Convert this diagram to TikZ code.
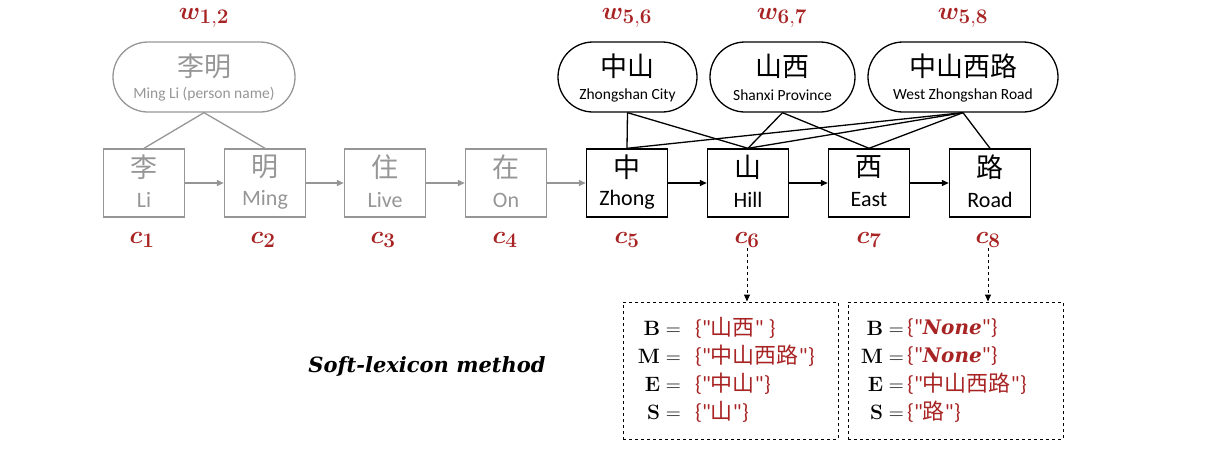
\documentclass[tikz,border=0pt]{standalone}
\usepackage{bm}
\usepackage[no-math]{fontspec}
\setmainfont{Carlito}
\newfontfamily\cjk{Noto Sans CJK SC}
\newfontfamily\serifb{DejaVu Serif}
\newfontfamily\carq{Carlito}
\newcommand\qq{{\carq\symbol{34}}}
\usetikzlibrary{arrows.meta,shapes.misc}
\definecolor{myred}{RGB}{168,36,36}
\definecolor{mygray}{RGB}{150,150,150}
\begin{document}
\begin{tikzpicture}[x=1pt,y=-1pt,
  charbox/.style={draw, line width=1.4pt, minimum width=81pt, minimum height=68pt, inner sep=0pt},
  graybox/.style={charbox, draw=mygray},
  oval/.style={draw, rounded rectangle, line width=1.3pt, minimum height=70pt, inner sep=0pt},
  grayoval/.style={oval, draw=mygray},
  zh/.style={font=\cjk\fontsize{27}{30}\selectfont, inner sep=0pt},
  en/.style={font=\fontsize{22}{26}\selectfont, inner sep=0pt},
  ozh/.style={font=\cjk\fontsize{27}{30}\selectfont, inner sep=0pt},
  oen/.style={font=\fontsize{15.5}{18}\selectfont, inner sep=0pt},
  wlab/.style={text=myred, font=\fontsize{30}{34}\selectfont, inner sep=0pt},
  arr/.style={-{Triangle[length=7pt,width=6pt]}, line width=1.4pt},
  grayarr/.style={arr, draw=mygray},
  link/.style={line width=1.3pt},
  graylink/.style={link, draw=mygray},
  dbox/.style={draw, dashed, line width=1pt, minimum width=215pt, minimum height=137pt, inner sep=0pt},
  darr/.style={dashed, line width=1pt, -{Triangle[length=7pt,width=6pt]}},
  lhs/.style={anchor=east, inner sep=0pt, font=\fontsize{22}{26}\selectfont},
  rhs/.style={anchor=west, inner sep=0pt, text=myred, font=\fontsize{22}{26}\selectfont},
]
\useasboundingbox (0,0) rectangle (1224,448);

% character boxes
\node[graybox] (b1) at (144,183) {};
\node[graybox] (b2) at (265,183) {};
\node[graybox] (b3) at (385,183) {};
\node[graybox] (b4) at (506,183) {};
\node[charbox] (b5) at (627,183) {};
\node[charbox] (b6) at (748,183) {};
\node[charbox] (b7) at (869,183) {};
\node[charbox] (b8) at (990,183) {};

\node[zh, text=mygray] (t1) at (144,167) {李};
\node[en, text=mygray] (e1) at (144,200) {Li};
\node[zh, text=mygray] (t2) at (265,167) {明};
\node[en, text=mygray] (e2) at (265,200) {Ming};
\node[zh, text=mygray] (t3) at (385,167) {住};
\node[en, text=mygray] (e3) at (385,200) {Live};
\node[zh, text=mygray] (t4) at (506,167) {在};
\node[en, text=mygray] (e4) at (506,200) {On};
\node[zh] (t5) at (627,167) {中};
\node[en] (e5) at (627,200) {Zhong};
\node[zh] (t6) at (748,167) {山};
\node[en] (e6) at (748,200) {Hill};
\node[zh] (t7) at (869,167) {西};
\node[en] (e7) at (869,200) {East};
\node[zh] (t8) at (990,167) {路};
\node[en] (e8) at (990,200) {Road};

% sequence arrows
\draw[grayarr] (b1.east) -- (b2.west);
\draw[grayarr] (b2.east) -- (b3.west);
\draw[grayarr] (b3.east) -- (b4.west);
\draw[grayarr] (b4.east) -- (b5.west);
\draw[arr] (b5.east) -- (b6.west);
\draw[arr] (b6.east) -- (b7.west);
\draw[arr] (b7.east) -- (b8.west);

% word ovals
\node[grayoval, minimum width=182pt] (o1) at (204,77) {};
\node[ozh, text=mygray] (o1z) at (204,66) {李明};
\node[oen, text=mygray] (o1e) at (204,94) {Ming Li (person name)};
\node[oval, minimum width=139pt] (o2) at (627.5,77) {};
\node[ozh] (o2z) at (627.5,66) {中山};
\node[oen] (o2e) at (627.5,95) {Zhongshan City};
\node[oval, minimum width=145pt] (o3) at (782.5,77) {};
\node[ozh] (o3z) at (782.5,66) {山西};
\node[oen] (o3e) at (782.5,95) {Shanxi Province};
\node[oval, minimum width=190pt] (o4) at (963,77) {};
\node[ozh] (o4z) at (963,66) {中山西路};
\node[oen] (o4e) at (963,95) {West Zhongshan Road};

% links
\draw[graylink] (o1.south) -- (b1.north);
\draw[graylink] (o1.south) -- (b2.north);
\draw[link] (o2.south) -- (b5.north);
\draw[link] (o2.south) -- (b6.north);
\draw[link] (o3.south) -- (b6.north);
\draw[link] (o3.south) -- (b7.north);
\draw[link] (o4.south) -- (b5.north);
\draw[link] (o4.south) -- (b6.north);
\draw[link] (o4.south) -- (b7.north);
\draw[link] (o4.south) -- (b8.north);

% w labels
\node[wlab] (w12) at (204,18) {$\bm{w}_{\mathbf{1,2}}$};
\node[wlab] (w56) at (627,18) {$\bm{w}_{\mathbf{5,6}}$};
\node[wlab] (w67) at (782,18) {$\bm{w}_{\mathbf{6,7}}$};
\node[wlab] (w58) at (963,18) {$\bm{w}_{\mathbf{5,8}}$};

% c labels
\node[wlab] (c1) at (142,240) {$\bm{c}_{\mathbf{1}}$};
\node[wlab] (c2) at (263,240) {$\bm{c}_{\mathbf{2}}$};
\node[wlab] (c3) at (383,240) {$\bm{c}_{\mathbf{3}}$};
\node[wlab] (c4) at (505,240) {$\bm{c}_{\mathbf{4}}$};
\node[wlab] (c5) at (627,240) {$\bm{c}_{\mathbf{5}}$};
\node[wlab] (c6) at (747,240) {$\bm{c}_{\mathbf{6}}$};
\node[wlab] (c7) at (869,240) {$\bm{c}_{\mathbf{7}}$};
\node[wlab] (c8) at (988,240) {$\bm{c}_{\mathbf{8}}$};

% lexicon boxes
\node[dbox] (L1) at (730.5,370.5) {};
\node[dbox] (L2) at (955.5,370.5) {};
\draw[darr] (c6.south) -- (c6.south |- L1.north);
\draw[darr] (c8.south) -- (c8.south |- L2.north);

\node[lhs] (l1b) at (681,328) {$\mathbf{B} =$};
\node[lhs] (l1m) at (681,356) {$\mathbf{M} =$};
\node[lhs] (l1e) at (681,384) {$\mathbf{E} =$};
\node[lhs] (l1s) at (681,412) {$\mathbf{S} =$};
\node[rhs] (r1b) at (695,328) {\{\qq{\cjk 山西}\qq\ \}};
\node[rhs] (r1m) at (695,356) {\{\qq{\cjk 中山西路}\qq\}};
\node[rhs] (r1e) at (695,384) {\{\qq{\cjk 中山}\qq\}};
\node[rhs] (r1s) at (695,412) {\{\qq{\cjk 山}\qq\}};

\node[lhs] (l2b) at (904,328) {$\mathbf{B} =$};
\node[lhs] (l2m) at (904,356) {$\mathbf{M} =$};
\node[lhs] (l2e) at (904,384) {$\mathbf{E} =$};
\node[lhs] (l2s) at (904,412) {$\mathbf{S} =$};
\node[rhs] (r2b) at (907,328) {\{\qq{\serifb\bfseries\itshape\fontsize{20}{24}\selectfont None}\qq\}};
\node[rhs] (r2m) at (907,356) {\{\qq{\serifb\bfseries\itshape\fontsize{20}{24}\selectfont None}\qq\}};
\node[rhs] (r2e) at (907,384) {\{\qq{\cjk 中山西路}\qq\}};
\node[rhs] (r2s) at (907,412) {\{\qq{\cjk 路}\qq\}};

\node[inner sep=0pt, font=\serifb\bfseries\itshape\fontsize{21}{26}\selectfont] (soft) at (427,367) {Soft-lexicon method};
\end{tikzpicture}
\end{document}
